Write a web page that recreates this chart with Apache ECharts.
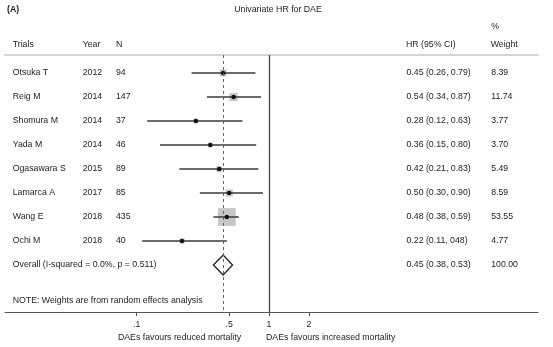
<!DOCTYPE html>
<html><head><meta charset="utf-8">
<script src="https://cdn.jsdelivr.net/npm/echarts@6/dist/echarts.min.js"></script>
<style>html,body{margin:0;padding:0;background:#fff}#c{width:553px;height:347px}</style>
</head><body><div id="c"></div>
<script>
// ---- data ----
const trials = ['Otsuka T','Reig M','Shomura M','Yada M','Ogasawara S','Lamarca A','Wang E','Ochi M'];
const years = ['2012','2014','2014','2014','2015','2017','2018','2018'];
const sampleN = ['94','147','37','46','89','85','435','40'];
const hr = [0.45,0.54,0.28,0.36,0.42,0.50,0.48,0.22];
const ciLow = [0.26,0.34,0.12,0.15,0.21,0.30,0.38,0.11];
const ciHigh = [0.79,0.87,0.63,0.80,0.83,0.90,0.59,0.48];
const ciText = ['0.45 (0.26, 0.79)','0.54 (0.34, 0.87)','0.28 (0.12, 0.63)','0.36 (0.15, 0.80)','0.42 (0.21, 0.83)','0.50 (0.30, 0.90)','0.48 (0.38, 0.59)','0.22 (0.11, 048)'];
const weights = [8.39,11.74,3.77,3.70,5.49,8.59,53.55,4.77];
const overallLabel = 'Overall (I-squared = 0.0%, p = 0.511)';
const overallHR = 0.45, overallLow = 0.38, overallHigh = 0.53;
const overallText = '0.45 (0.38, 0.53)';
const overallWeight = '100.00';
const xTicks = [0.1, 0.5, 1, 2];
const xTickLabels = ['.1', '.5', '1', '2'];

// ---- layout ----
const FONT = 'Liberation Sans, Arial, sans-serif';
const FS = 8.75;
const TXT = '#1e1e1e';
const gridLeft = 5, gridRight = 15, gridTop = 55, gridBottom = 35;
const xMin = 0.0101, xMax = 108;
const yMin = 0.25, yMax = 10.958;

const nStudy = trials.length;
const rows = trials.map((_, i) => i + 1);
const overallRow = nStudy + 1;
const allRows = rows.concat([overallRow]);

const colTrials = trials.concat([overallLabel]);
const colYear = years.concat(['']);
const colN = sampleN.concat(['']);
const colHR = ciText.concat([overallText]);
const colW = weights.map(w => w.toFixed(2)).concat([overallWeight]);

function colAxis(texts, xStart) {
  return {
    type: 'value', inverse: true, min: yMin, max: yMax, position: 'left',
    offset: gridLeft - xStart,
    axisLine: {show: false}, axisTick: {show: false}, splitLine: {show: false},
    axisLabel: {
      customValues: allRows,
      formatter: v => texts[Math.round(v) - 1] || '',
      align: 'left', margin: 0, fontSize: FS, color: TXT, fontFamily: FONT
    }
  };
}

const studyData = hr.map((h, i) => [h, rows[i], ciLow[i], ciHigh[i], weights[i]]);

function txt(text, x, y, align, bold) {
  return {type: 'text', x: x, y: y, style: {text: text, x: 0, y: 0, fill: TXT, font: (bold ? 'bold ' : '') + FS + 'px ' + FONT, textAlign: align || 'left', textVerticalAlign: 'middle'}};
}

const chart = echarts.init(document.getElementById('c'), null, {renderer: 'canvas'});
chart.setOption({
  animation: false,
  backgroundColor: '#fff',
  grid: {left: gridLeft, right: gridRight, top: gridTop, bottom: gridBottom, outerBoundsMode: 'none'},
  xAxis: [{
    type: 'log', logBase: 10, min: xMin, max: xMax, position: 'bottom',
    axisLine: {show: true, onZero: false, lineStyle: {color: '#555', width: 1.2}},
    axisTick: {show: true, customValues: xTicks, length: 4, lineStyle: {color: '#555', width: 1}},
    axisLabel: {customValues: xTicks, formatter: v => xTickLabels[xTicks.indexOf(v)] ?? String(v), margin: 8, fontSize: FS, color: TXT, fontFamily: FONT},
    splitLine: {show: false}, minorTick: {show: false}
  }, {
    type: 'log', logBase: 10, min: xMin, max: xMax, position: 'top',
    axisLine: {show: true, onZero: false, lineStyle: {color: '#d4d4d4', width: 2}},
    axisTick: {show: false}, axisLabel: {show: false}, splitLine: {show: false}
  }],
  yAxis: [
    {type: 'value', inverse: true, min: yMin, max: yMax, show: false},
    colAxis(colTrials, 12.7),
    colAxis(colYear, 82.7),
    colAxis(colN, 116),
    colAxis(colHR, 406.5),
    colAxis(colW, 491.2)
  ],
  graphic: [
    txt('(A)', 7, 10, 'left', true),
    txt('Univariate HR for DAE', 278, 10, 'center'),
    txt('%', 491.2, 27, 'left'),
    txt('Trials', 12.7, 44.5, 'left'),
    txt('Year', 82.7, 44.5, 'left'),
    txt('N', 116, 44.5, 'left'),
    txt('HR (95% CI)', 406, 44.5, 'left'),
    txt('Weight', 490.7, 44.5, 'left'),
    txt('NOTE: Weights are from random effects analysis', 12.7, 300.7, 'left'),
    txt('DAEs favours reduced mortality', 241, 337.7, 'right'),
    txt('DAEs favours increased mortality', 266, 337.7, 'left')
  ],
  series: [{
    type: 'custom', xAxisIndex: 0, yAxisIndex: 0,
    data: studyData,
    renderItem: function (params, api) {
      const r = api.value(1);
      const c = api.coord([api.value(0), r]);
      const l = api.coord([api.value(2), r]);
      const h = api.coord([api.value(3), r]);
      const side = 2.42 * Math.sqrt(api.value(4));
      return {type: 'group', children: [
        {type: 'rect', shape: {x: c[0] - side / 2, y: c[1] - side / 2, width: side, height: side}, style: {fill: '#c6c6c6'}},
        {type: 'line', shape: {x1: l[0], y1: c[1], x2: h[0], y2: c[1]}, style: {stroke: '#3a3a3a', lineWidth: 1.5}},
        {type: 'circle', shape: {cx: c[0], cy: c[1], r: 2.2}, style: {fill: '#111'}}
      ]};
    }
  }, {
    type: 'custom', xAxisIndex: 0, yAxisIndex: 0,
    data: [[overallHR, overallRow, overallLow, overallHigh]],
    renderItem: function (params, api) {
      const r = api.value(1);
      const c = api.coord([api.value(0), r]);
      const l = api.coord([api.value(2), r]);
      const h = api.coord([api.value(3), r]);
      const hh = 10;
      return {type: 'polygon', shape: {points: [[l[0], c[1]], [c[0], c[1] - hh], [h[0], c[1]], [c[0], c[1] + hh]]}, style: {fill: '#fff', stroke: '#222', lineWidth: 1.3}};
    },
    markLine: {
      silent: true, symbol: ['none', 'none'], label: {show: false}, z: 10,
      data: [
        {xAxis: 1, lineStyle: {type: 'solid', color: '#444', width: 1.3}},
        {xAxis: overallHR, lineStyle: {type: [3, 3], color: '#666', width: 1}}
      ]
    }
  }]
});
</script>
</body></html>
